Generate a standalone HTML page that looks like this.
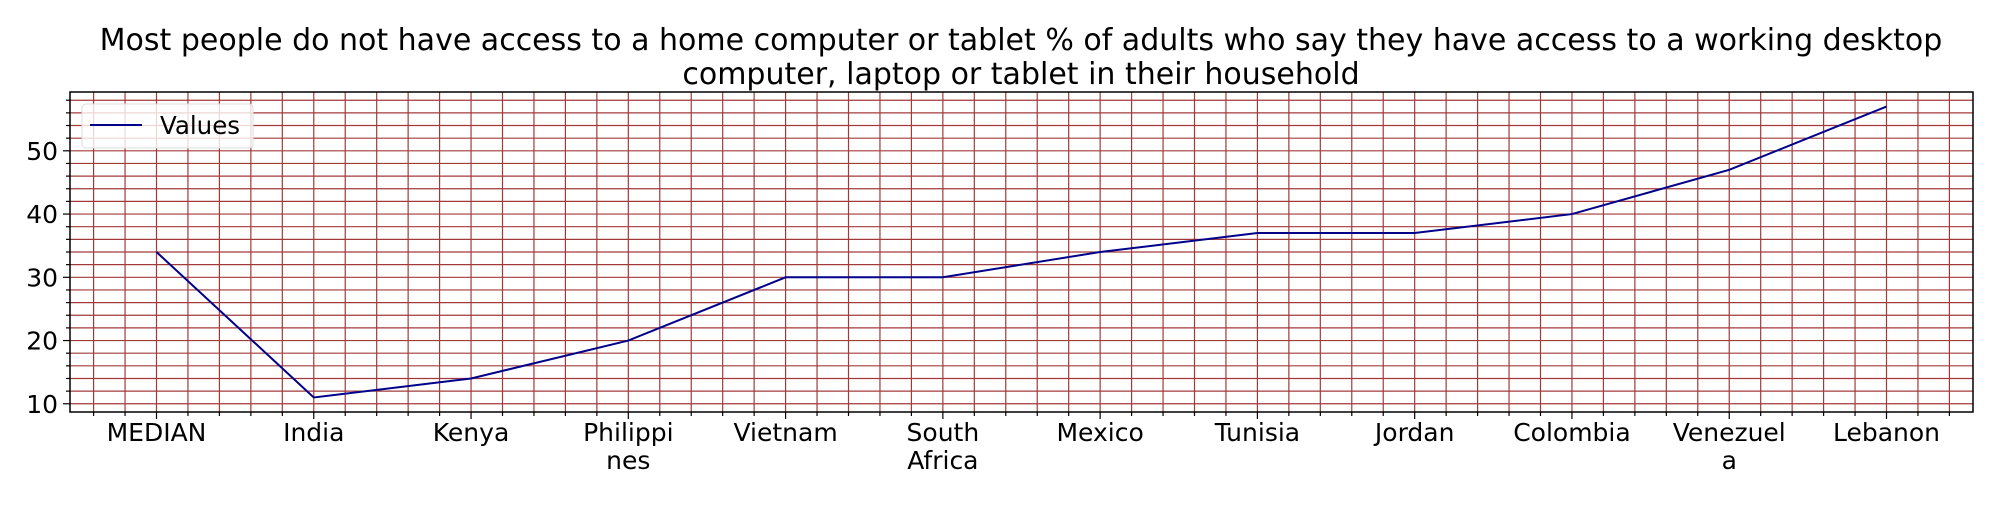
<!DOCTYPE html>
<html><head><meta charset="utf-8"><style>
body{margin:0;background:#fff}
svg text{font-family:"DejaVu Sans","Liberation Sans",sans-serif}
</style></head><body>
<svg id="chart" width="2000" height="500" xmlns="http://www.w3.org/2000/svg">
<text x="1021" y="50" font-size="30" text-anchor="middle">Most people do not have access to a home computer or tablet % of adults who say they have access to a working desktop</text>
<text x="1021" y="84" font-size="30" text-anchor="middle">computer, laptop or tablet in their household</text>
<g id="grid"></g>
<g id="axes"></g>
<g id="series"></g>
<rect x="70" y="92" width="1903" height="320" fill="none" stroke="#000" stroke-width="1.5"/>
<g>
<rect x="82" y="104" width="171" height="44" rx="4" fill="#fff" fill-opacity="0.8" stroke="#ddd"/>
<line x1="90" y1="125" x2="142" y2="125" stroke="#00008b" stroke-width="2"/>
<text x="160" y="134" font-size="24.5">Values</text>
</g>
</svg>
<script>
const categories=[["MEDIAN"],["India"],["Kenya"],["Philippi","nes"],["Vietnam"],["South","Africa"],["Mexico"],["Tunisia"],["Jordan"],["Colombia"],["Venezuel","a"],["Lebanon"]];
const values=[34,11,14,20,30,30,34,37,37,40,47,57];
const yTicks=[10,20,30,40,50];
const NS="http://www.w3.org/2000/svg";
const L=70,R=1973,T=92,B=412;
const xMin=-0.55,xMax=11.55,yMin=8.7,yMax=59.3;
const xs=v=>L+(v-xMin)/(xMax-xMin)*(R-L);
const ys=v=>B-(v-yMin)/(yMax-yMin)*(B-T);
function mk(t,a,p){const e=document.createElementNS(NS,t);for(const k in a)e.setAttribute(k,a[k]);p.appendChild(e);return e;}
const grid=document.getElementById('grid'),axes=document.getElementById('axes'),series=document.getElementById('series');
for(let i=Math.ceil(xMin*5);i<=Math.floor(xMax*5);i++){const x=xs(i/5);
const g=mk('line',{x1:x,x2:x,y1:T,y2:B,stroke:'#a33a3a','stroke-width':1.2},grid);


const major=i%5===0;
mk('line',{x1:x,x2:x,y1:B,y2:B+(major?7:4),stroke:'#000','stroke-width':1.2},axes);}
for(let v=Math.ceil(yMin/2)*2;v<=yMax;v+=2){const y=ys(v);
const g=mk('line',{x1:L,x2:R,y1:y,y2:y,stroke:'#a33a3a','stroke-width':1.2},grid);


mk('line',{x1:L,x2:L-(v%10===0?7:4),y1:y,y2:y,stroke:'#000','stroke-width':1.2},axes);}
yTicks.forEach(v=>{const t=mk('text',{x:L-12,y:ys(v)+9,'font-size':25,'text-anchor':'end'},axes);t.textContent=v;

});
categories.forEach((c,i)=>{c.forEach((ln,j)=>{const t=mk('text',{x:xs(i),y:441+j*28,'font-size':25,'text-anchor':'middle'},axes);t.textContent=ln;

});});
const pts=values.map((v,i)=>xs(i)+','+ys(v)).join(' ');
const pl=mk('polyline',{points:pts,fill:'none',stroke:'#00008b','stroke-width':2},series);


</script>
</body></html>
